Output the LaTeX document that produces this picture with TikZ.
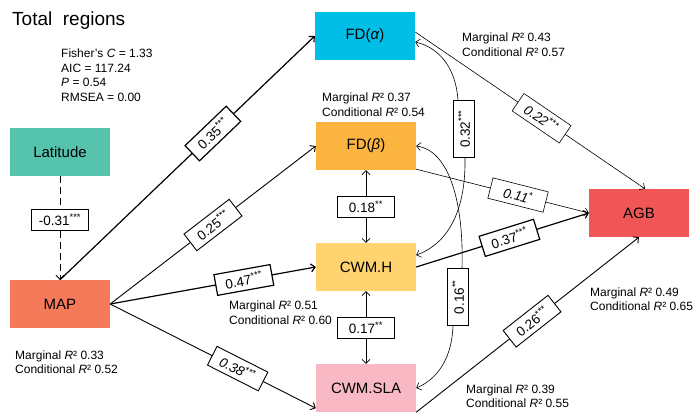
\documentclass[tikz,border=0pt]{standalone}
\usepackage{fontspec}
\setmainfont{Liberation Sans}
\usetikzlibrary{arrows.meta}
\definecolor{latcol}{RGB}{86,196,172}
\definecolor{mapcol}{RGB}{244,122,90}
\definecolor{fdacol}{RGB}{0,190,230}
\definecolor{fdbcol}{RGB}{251,180,64}
\definecolor{cwmhcol}{RGB}{255,212,112}
\definecolor{slacol}{RGB}{248,184,196}
\definecolor{agbcol}{RGB}{240,86,86}

\begin{document}
\begin{tikzpicture}[x=1pt,y=-1pt,>={Straight Barb[length=4pt,width=8pt]},
  var/.style={minimum width=100pt,minimum height=48pt,inner sep=0pt,font=\fontsize{15}{18}\selectfont},
  coef/.style={draw,solid,fill=white,inner sep=2pt,minimum width=57pt,minimum height=21pt,font=\fontsize{13.5}{15}\selectfont},
  rsq/.style={anchor=west,align=left,inner sep=0pt,font=\fontsize{12}{14.5}\selectfont},
  path1/.style={->,line width=1.2pt},
  path2/.style={->,line width=0.9pt},
  path3/.style={->,line width=0.6pt}]
  \useasboundingbox (0,0) rectangle (700,418);
  % ---------- title and fit
  \node[anchor=west,inner sep=0pt,font=\fontsize{19}{22}\selectfont] (title) at (12,21) {Total~~regions};
  \node[rsq] (fit) at (61,75) {Fisher's \textit{C} = 1.33\\AIC = 117.24\\\textit{P} = 0.54\\RMSEA = 0.00};
  % ---------- variables
  \node[var,fill=latcol] (lat) at (60,152) {Latitude};
  \node[var,fill=mapcol] (map) at (60,304) {MAP};
  \node[var,fill=fdacol] (fda) at (365,36) {FD(\textit{α})};
  \node[var,fill=fdbcol] (fdb) at (366,146) {FD(\textit{β})};
  \node[var,fill=cwmhcol] (cwmh) at (366,267) {CWM.H};
  \node[var,fill=slacol] (sla) at (366,388) {CWM.SLA};
  \node[var,fill=agbcol] (agb) at (639,213) {AGB};
  % ---------- R2 labels
  \node[rsq] (rfda) at (462,44.5) {Marginal \textit{R}² 0.43\\Conditional \textit{R}² 0.57};
  \node[rsq] (rfdb) at (322,104.5) {Marginal \textit{R}² 0.37\\Conditional \textit{R}² 0.54};
  \node[rsq] (rcwmh) at (229,312.5) {Marginal \textit{R}² 0.51\\Conditional \textit{R}² 0.60};
  \node[rsq] (rmap) at (15,362) {Marginal \textit{R}² 0.33\\Conditional \textit{R}² 0.52};
  \node[rsq] (ragb) at (590,299) {Marginal \textit{R}² 0.49\\Conditional \textit{R}² 0.65};
  \node[rsq] (rsla) at (466,396) {Marginal \textit{R}² 0.39\\Conditional \textit{R}² 0.55};
  % ---------- paths from latitude and MAP
  \draw[->,line width=0.8pt,dash pattern=on 7pt off 4pt] (lat) -- node[coef,pos=0.42] (l31) {-0.31\textsuperscript{***}} (map);
  \draw[path1] (map.north) -- node[coef,sloped,pos=0.6] (l35) {0.35\textsuperscript{***}} (fda.west);
  \draw[path2] (map.east) -- node[coef,sloped,pos=0.5] (l25) {0.25\textsuperscript{***}} (fdb.west);
  \draw[path1] (map.east) -- node[coef,sloped,pos=0.65] (l47) {0.47\textsuperscript{***}} (cwmh.west);
  \draw[path2] (map.east) -- node[coef,sloped,pos=0.62] (l38) {\textit{0.38}\textsuperscript{***}} ([yshift=4pt]sla.south west);
  % ---------- paths to AGB
  \draw[path3] ([yshift=4pt]fda.east) -- node[coef,sloped,pos=0.55] (l22) {\textit{0.22}\textsuperscript{***}} ([xshift=6pt]agb.north);
  \draw[path3] ([yshift=1pt]fdb.south east) -- node[coef,sloped,pos=0.59] (l11) {\textit{0.11}\textsuperscript{*}} (agb.west);
  \draw[path1] (cwmh.east) -- node[coef,sloped,pos=0.54] (l37) {0.37\textsuperscript{***}} (agb.west);
  \draw[path2] (sla.south east) -- node[coef,sloped,pos=0.52] (l26) {0.26\textsuperscript{***}} (agb.south);
  % ---------- correlations
  \draw[<->,line width=0.6pt] (fdb) -- node[coef] (l18) {0.18\textsuperscript{**}} (cwmh);
  \draw[<->,line width=0.6pt] (cwmh) -- node[coef] (l17) {0.17\textsuperscript{**}} (sla);
  \node[coef,rotate=90] (l32) at (464,129) {0.32\textsuperscript{***}};
  \node[coef,rotate=90] (l16) at (458,297) {0.16\textsuperscript{**}};
  \draw[->,line width=0.6pt] ([xshift=-6pt]l32.east) .. controls (456,70) and (441,48) .. ([yshift=-6pt]fda.east);
  \draw[->,line width=0.6pt] ([xshift=1pt]l32.west) .. controls (466,215) and (445,245) .. ([yshift=12pt]cwmh.east);
  \draw[->,line width=0.6pt] ([xshift=4pt]l16.east) .. controls (464,200) and (448,150) .. (fdb.east);
  \draw[->,line width=0.6pt] ([xshift=-5pt]l16.west) .. controls (452,355) and (440,378) .. (sla.east);
\end{tikzpicture}
\end{document}
